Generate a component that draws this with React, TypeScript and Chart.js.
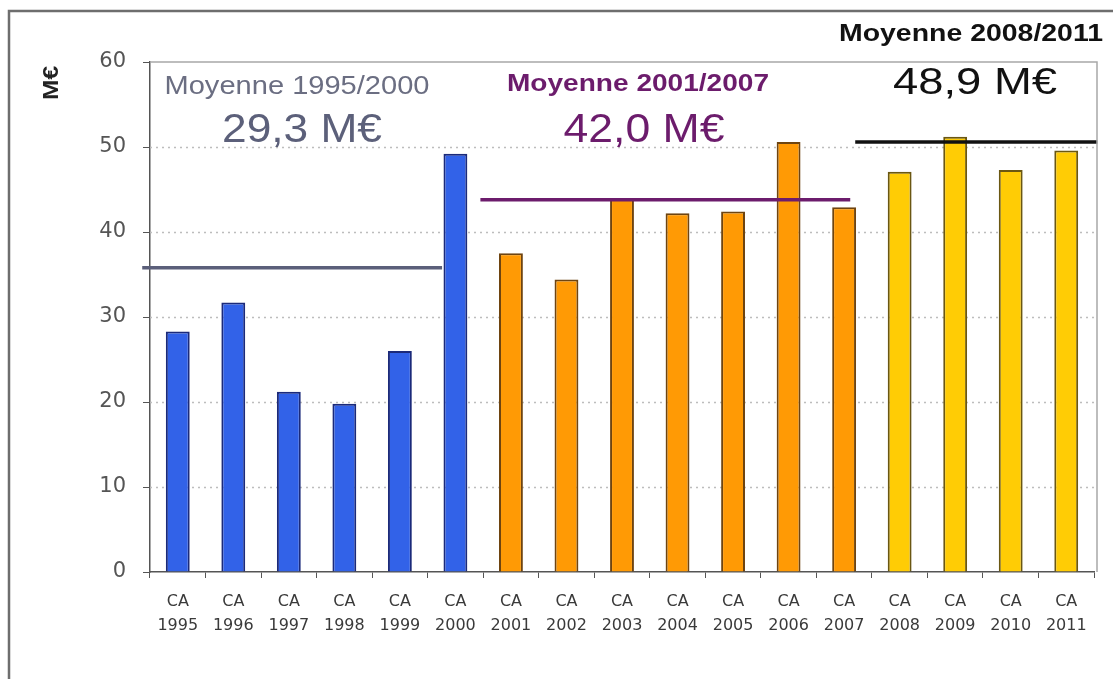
import React, { useEffect, useRef } from "react";
import { Chart, registerables } from "chart.js";

Chart.register(...registerables);

// ---- data ----
const years = ["1995","1996","1997","1998","1999","2000","2001","2002","2003","2004","2005","2006","2007","2008","2009","2010","2011"];
const labelPrefix = "CA";
const revenue = [28.3, 31.7, 21.2, 19.8, 26.0, 49.2, 37.5, 34.4, 44.0, 42.2, 42.4, 50.6, 42.9, 47.1, 51.2, 47.3, 49.6];
const periodOfYear = [0, 0, 0, 0, 0, 0, 1, 1, 1, 1, 1, 1, 1, 2, 2, 2, 2];
const yTicks = [0, 10, 20, 30, 40, 50, 60];
const avgLineLevels = [35.8, 43.8, 50.6];
const avgLineStart = [-0.64, 5.45, 12.2];
const avgLineEnd = [4.76, 12.11, 16.56];
const avgTitles = ["Moyenne 1995/2000", "Moyenne 2001/2007", "Moyenne 2008/2011"];
const avgValues = ["29,3 M€", "42,0 M€", "48,9 M€"];
const yTitle = "M€";

// ---- styles ----
const periodFill = ["#3262e8", "#ff9a05", "#ffcc05"];
const periodBorder = ["#1b2a7a", "#6e4410", "#6a5712"];
const lineColors = ["#5b5f7a", "#6c1c6c", "#111111"];
const titleColors = ["#6b6e82", "#6c1c6c", "#111111"];
const valueColors = ["#5c607a", "#6c1c6c", "#111111"];

function drawText(ctx: CanvasRenderingContext2D, text: string, cx: number, cy: number, font: string, color: string, targetW?: number, rotate?: boolean) {
  ctx.save();
  ctx.font = font;
  ctx.fillStyle = color;
  ctx.textAlign = "center";
  ctx.textBaseline = "middle";
  const w = ctx.measureText(text).width;
  const sx = targetW ? targetW / w : 1;
  ctx.translate(cx, cy);
  if (rotate) ctx.rotate(-Math.PI / 2);
  ctx.scale(sx, 1);
  ctx.fillText(text, 0, 0);
  ctx.restore();
}

const decorPlugin = {
  id: "decor",
  beforeDatasetsDraw(chart: any) {
    const { ctx, chartArea, scales } = chart;
    const y = scales.y;
    ctx.save();
    ctx.strokeStyle = "#bdbdbd";
    ctx.lineWidth = 1.5;
    ctx.setLineDash([2, 4]);
    yTicks.forEach((v) => {
      if (v === 0 || v === 60) return;
      const py = Math.round(y.getPixelForValue(v)) + 0.5;
      ctx.beginPath();
      ctx.moveTo(chartArea.left, py);
      ctx.lineTo(chartArea.right, py);
      ctx.stroke();
    });
    ctx.restore();
  },
  afterDraw(chart: any) {
    const { ctx, chartArea } = chart;
    ctx.save();
    // plot box
    ctx.strokeStyle = "#a8a8a8";
    ctx.lineWidth = 1.5;
    ctx.beginPath();
    ctx.moveTo(chartArea.left, chartArea.top);
    ctx.lineTo(chartArea.right + 3, chartArea.top);
    ctx.lineTo(chartArea.right + 3, chartArea.bottom);
    ctx.stroke();
    // outer frame
    ctx.strokeStyle = "#6e6e6e";
    ctx.lineWidth = 2.5;
    ctx.beginPath();
    ctx.moveTo(9, 679);
    ctx.lineTo(9, 11);
    ctx.lineTo(1113, 11);
    ctx.stroke();
    ctx.restore();

    // annotations
    drawText(ctx, avgTitles[0], 297, 87, '25px "Liberation Sans"', titleColors[0], 265);
    drawText(ctx, avgValues[0], 302, 131, '40px "Liberation Sans"', valueColors[0], 160);
    drawText(ctx, avgTitles[1], 638, 85, 'bold 23px "Liberation Sans"', titleColors[1], 262);
    drawText(ctx, avgValues[1], 644, 131, '40px "Liberation Sans"', valueColors[1], 161);
    drawText(ctx, avgTitles[2], 971, 35, 'bold 23px "Liberation Sans"', titleColors[2], 264);
    drawText(ctx, avgValues[2], 975, 84, '36px "Liberation Sans"', valueColors[2], 164);
    drawText(ctx, yTitle, 52, 83, 'bold 22px "Liberation Sans"', "#222", 34, true);
  },
};

export default function App() {
  const ref = useRef<HTMLCanvasElement | null>(null);
  useEffect(() => {
    document.body.style.margin = "0";
    const canvas = ref.current;
    if (!canvas) return;
    const lineSets = avgLineLevels.map((lvl, i) => ({
      type: "line" as const,
      xAxisID: "x2",
      yAxisID: "y",
      data: [
        { x: avgLineStart[i], y: lvl },
        { x: avgLineEnd[i], y: lvl },
      ],
      borderColor: lineColors[i],
      borderWidth: 3.5,
      pointRadius: 0,
      fill: false,
      clip: false as any,
      order: 0,
    }));
    const chart = new Chart(canvas, {
      type: "bar",
      data: {
        labels: years.map((y) => [labelPrefix, y]),
        datasets: [
          {
            type: "bar" as const,
            data: revenue,
            backgroundColor: periodOfYear.map((p) => periodFill[p]),
            borderColor: periodOfYear.map((p) => periodBorder[p]),
            borderWidth: 2,
            barPercentage: 0.43,
            categoryPercentage: 1,
            grouped: false,
            order: 1,
          } as any,
          ...lineSets,
        ],
      },
      plugins: [decorPlugin],
      options: {
        responsive: false,
        animation: false,
        layout: { padding: { top: 62, right: 19, left: 0, bottom: 0 } },
        plugins: { legend: { display: false }, tooltip: { enabled: false } },
        scales: {
          x: {
            type: "category",
            offset: true,
            grid: { display: true, drawOnChartArea: false, drawTicks: true, tickLength: 6, tickColor: "#555", offset: true },
            border: { display: true, color: "#555", width: 1.5 },
            ticks: {
              color: "#3a3a3a",
              font: { family: "DejaVu Sans", size: 16, lineHeight: 1.5 },
              padding: 12,
              maxRotation: 0,
              autoSkip: false,
            },
            afterFit: (s: any) => { s.height = 107; },
          },
          x2: {
            type: "linear",
            display: false,
            offset: false,
            grid: { offset: false },
            min: -0.5,
            max: years.length - 0.5,
          },
          y: {
            min: 0,
            max: 60,
            ticks: {
              stepSize: 10,
              color: "#555",
              font: { family: "DejaVu Sans", size: 21 },
              padding: 17,
            },
            grid: { display: true, drawOnChartArea: false, drawTicks: true, tickLength: 7, tickColor: "#555" },
            border: { display: true, color: "#555", width: 1.5 },
            afterFit: (s: any) => { s.width = 150; },
          },
        },
      } as any,
    });
    return () => chart.destroy();
  }, []);
  return (
    <div style={{ width: 1113, height: 679, background: "#fff" }}>
      <canvas ref={ref} width={1113} height={679} />
    </div>
  );
}
